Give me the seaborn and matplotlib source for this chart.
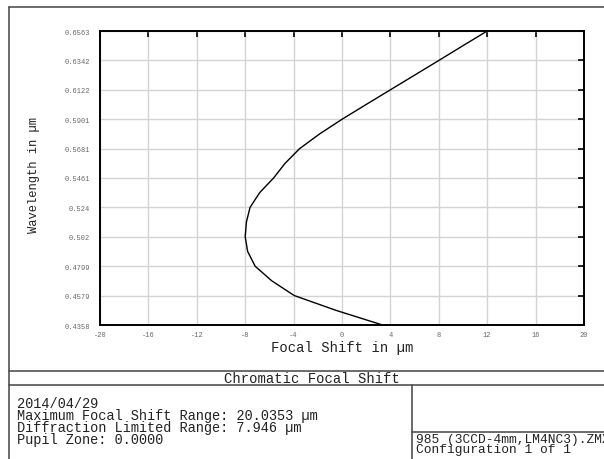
import numpy as np
import pandas as pd
import matplotlib.pyplot as plt
import seaborn as sns
from matplotlib.lines import Line2D

# values
wavelength = [0.4358, 0.4468, 0.4579, 0.4689, 0.4799, 0.4910, 0.5020, 0.5130, 0.5240, 0.5351, 0.5461,
              0.5571, 0.5681, 0.5791, 0.5901, 0.6012, 0.6122, 0.6232, 0.6342, 0.6453, 0.6563]
focal_shift = [3.35, -0.5, -3.95, -5.8, -7.18, -7.8, -8.0, -7.9, -7.6, -6.8, -5.65,
               -4.7, -3.5, -1.85, 0.0, 2.0, 4.0, 6.0, 8.0, 10.0, 12.0]
y_tick_labels = ['0.4358', '0.4579', '0.4799', '0.502', '0.524', '0.5461',
                 '0.5681', '0.5901', '0.6122', '0.6342', '0.6563']
x_ticks = [-20, -16, -12, -8, -4, 0, 4, 8, 12, 16, 20]
info_lines = ['2014/04/29', 'Maximum Focal Shift Range: 20.0353 µm',
              'Diffraction Limited Range: 7.946 µm', 'Pupil Zone: 0.0000']
file_lines = ['985 (3CCD-4mm,LM4NC3).ZMX', 'Configuration 1 of 1']

df = pd.DataFrame({'shift': focal_shift, 'wl': wavelength})

sns.set_style('white')
plt.rcParams['font.family'] = ['Liberation Mono', 'DejaVu Sans Mono']

W, H = 604, 460
fig = plt.figure(figsize=(W / 100, H / 100), dpi=100)

def fx(px):
    return px / W

def fy(py):
    return 1 - py / H

ax = fig.add_axes([fx(100), fy(326), fx(584) - fx(100), fy(32) - fy(326)])
sns.lineplot(data=df, x='shift', y='wl', sort=False, color='black', lw=1.0, ax=ax)

y_ticks = np.linspace(wavelength[0], wavelength[-1], len(y_tick_labels))
ax.set_xlim(-20, 20)
ax.set_ylim(y_ticks[0], y_ticks[-1])
ax.set_xticks(x_ticks)
ax.set_xticklabels([str(t) for t in x_ticks])
ax.set_yticks(y_ticks)
ax.set_yticklabels(y_tick_labels)
ax.grid(True, color='#d4d4d4', lw=1.0)
ax.tick_params(direction='in', length=4, width=1.2, color='black',
               top=True, right=True, labelsize=5, labelcolor='#666666')
ax.tick_params(axis='y', pad=7)
ax.tick_params(axis='x', pad=4)
for s in ax.spines.values():
    s.set_color('black')
    s.set_linewidth(1.4)

ax.set_xlabel('Focal Shift in µm', fontsize=10, color='#222222', va='center')
ax.xaxis.set_label_coords(0.5, -0.074)
ax.set_ylabel('Wavelength in µm', fontsize=8.7, color='#222222', va='center')
ax.yaxis.set_label_coords(-0.136, 0.512)

# frame of the report page
frame = dict(color='#444444', lw=1.1)
fig.add_artist(Line2D([fx(9), fx(9)], [fy(8), 0], **frame))
fig.add_artist(Line2D([fx(9), 1], [fy(8), fy(8)], **frame))
fig.add_artist(Line2D([fx(9), 1], [fy(372), fy(372)], **frame))
fig.add_artist(Line2D([fx(9), 1], [fy(386), fy(386)], **frame))
fig.add_artist(Line2D([fx(412), fx(412)], [fy(386), 0], **frame))
fig.add_artist(Line2D([fx(412), 1], [fy(433), fy(433)], **frame))

fig.text(fx(312), fy(379), 'Chromatic Focal Shift', fontsize=10, color='#222222',
         ha='center', va='center')
fig.text(fx(17), fy(397), '\n'.join(info_lines), fontsize=9.8, color='#222222',
         va='top', linespacing=0.83)
fig.text(fx(416), fy(434), '\n'.join(file_lines), fontsize=9.3, color='#222222',
         va='top', linespacing=0.74)

fig.savefig('out.png', dpi=100)
